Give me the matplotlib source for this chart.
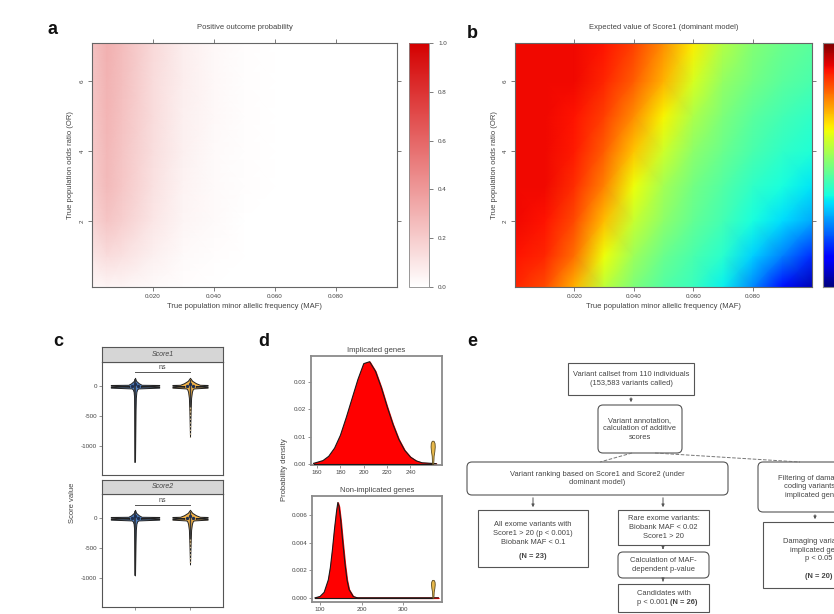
import matplotlib
matplotlib.use("Agg")
import matplotlib.pyplot as plt
from matplotlib.colors import LinearSegmentedColormap
from matplotlib.patches import FancyBboxPatch
import numpy as np

plt.rcParams['font.family'] = ['Liberation Sans', 'DejaVu Sans']

# ---- panel a: positive outcome probability (MAF x OR grid) ----
maf_a = [0.0, 0.005, 0.01, 0.02, 0.03, 0.04, 0.05, 0.06, 0.1]
or_a = [0.1, 1, 2, 3, 4, 5, 6, 7.1]
prob_a = [
    [0.03, 0.04, 0.04, 0.02, 0.01, 0.00, 0.00, 0.0, 0.0],
    [0.10, 0.14, 0.12, 0.06, 0.02, 0.01, 0.00, 0.0, 0.0],
    [0.17, 0.23, 0.19, 0.10, 0.04, 0.02, 0.00, 0.0, 0.0],
    [0.20, 0.27, 0.22, 0.12, 0.05, 0.02, 0.01, 0.0, 0.0],
    [0.21, 0.28, 0.23, 0.13, 0.06, 0.02, 0.01, 0.0, 0.0],
    [0.22, 0.29, 0.24, 0.14, 0.06, 0.03, 0.01, 0.0, 0.0],
    [0.23, 0.30, 0.25, 0.14, 0.07, 0.03, 0.01, 0.0, 0.0],
    [0.24, 0.31, 0.26, 0.15, 0.07, 0.03, 0.01, 0.0, 0.0],
]

# ---- panel b: expected value of Score1 (dominant model), 0..1 scaled ----
maf_b = [0.0, 0.01, 0.02, 0.03, 0.04, 0.05, 0.06, 0.07, 0.08, 0.09, 0.1]
or_b = [0.1, 1, 2, 3, 4, 5, 6, 7.1]
score_b = [
    [0.87, 0.83, 0.72, 0.58, 0.50, 0.45, 0.42, 0.36, 0.26, 0.14, 0.05],
    [0.89, 0.87, 0.79, 0.64, 0.54, 0.48, 0.44, 0.40, 0.33, 0.25, 0.17],
    [0.90, 0.89, 0.83, 0.71, 0.59, 0.52, 0.47, 0.43, 0.38, 0.34, 0.29],
    [0.90, 0.90, 0.86, 0.77, 0.64, 0.55, 0.49, 0.45, 0.41, 0.38, 0.35],
    [0.90, 0.90, 0.88, 0.81, 0.70, 0.60, 0.52, 0.48, 0.44, 0.41, 0.39],
    [0.90, 0.90, 0.89, 0.84, 0.76, 0.65, 0.56, 0.50, 0.46, 0.43, 0.41],
    [0.90, 0.90, 0.90, 0.87, 0.81, 0.72, 0.61, 0.53, 0.49, 0.46, 0.44],
    [0.90, 0.90, 0.90, 0.89, 0.84, 0.76, 0.66, 0.57, 0.51, 0.48, 0.46],
]

# ---- panel c: violin shapes (score value vs half width) ----
facets = ['Score1', 'Score2']
violin_y = [130, 80, 40, 15, 12, 0, -8, -14, -20, -32, -45, -60, -100, -200, -400]
blue_w = [0.0, 0.02, 0.07, 0.12, 0.44, 0.44, 0.12, 0.10, 0.44, 0.44, 0.06, 0.04, 0.025, 0.015, 0.010]
orange_w = [0.0, 0.04, 0.11, 0.18, 0.32, 0.32, 0.12, 0.10, 0.32, 0.32, 0.07, 0.05, 0.035, 0.02, 0.012]
tail_blue = [-1250, -950]
tail_orange = [-840, -770]
ns_y = [225, 210]

# ---- panel d: null densities of summed scores ----
impl_x = [157, 165, 170, 175, 180, 185, 190, 195, 200, 205, 210, 215, 220, 225, 230, 235, 240, 245, 250, 262]
impl_y = [0.0002, 0.0012, 0.0028, 0.0058, 0.0105, 0.017, 0.024, 0.031, 0.0368, 0.0375, 0.034, 0.028,
          0.021, 0.0145, 0.009, 0.005, 0.0025, 0.0011, 0.0004, 0.0001]
nonimpl_x = [88, 100, 110, 120, 125, 130, 135, 140, 143, 146, 150, 155, 160, 165, 170, 180, 190, 385]
nonimpl_y = [0.0, 0.0001, 0.0004, 0.0013, 0.0022, 0.0035, 0.0050, 0.0063, 0.0069, 0.0066, 0.0056,
             0.0040, 0.0025, 0.0013, 0.0006, 0.0001, 0.0, 0.0]
impl_obs = 259
nonimpl_obs = 372

# ---- panel e: flowchart texts ----
flow_texts = [
    "Variant callset from 110 individuals\n(153,583 variants called)",
    "Variant annotation,\ncalculation of additive\nscores",
    "Variant ranking based on Score1 and Score2 (under\ndominant model)",
    "Filtering of damaging\ncoding variants in\nimplicated genes",
    "All exome variants with\nScore1 > 20 (p < 0.001)\nBiobank MAF < 0.1",
    "Rare exome variants:\nBiobank MAF < 0.02\nScore1 > 20",
    "Calculation of MAF-\ndependent p-value",
    "Candidates with\np < 0.001",
    "Damaging variants in\nimplicated genes\np < 0.05",
]
flow_counts = ["(N = 23)", "(N = 26)", "(N = 20)"]

W, H = 834, 614
TXT = '#444444'
FS_E = 5.4
fig = plt.figure(figsize=(W / 100, H / 100), dpi=100)


def px_axes(x0, y0, x1, y1):
    return fig.add_axes([x0 / W, 1 - y1 / H, (x1 - x0) / W, (y1 - y0) / H])


def lattice_style(ax):
    for s in ax.spines.values():
        s.set_color('#666666')
        s.set_linewidth(0.8)
    ax.tick_params(axis='both', which='both', length=3, width=0.6, color='#666666',
                   labelsize=4.5, labelcolor=TXT, top=True, right=True, pad=2)
    ax.set_xticks([0.02, 0.04, 0.06, 0.08])
    ax.set_xticklabels(['0.020', '0.040', '0.060', '0.080'])
    ax.set_yticks([2, 4, 6])
    ax.set_yticklabels(['2', '4', '6'], rotation=90, va='center')
    ax.set_xlim(0, 0.1)
    ax.set_ylim(0.1, 7.1)
    ax.set_xlabel('True population minor allelic frequency (MAF)', fontsize=5.5, color=TXT, labelpad=3)
    ax.set_ylabel('True population odds ratio (OR)', fontsize=5.5, color=TXT, labelpad=4)


# panel a
reds = LinearSegmentedColormap.from_list('wr', ['#ffffff', '#d40000'])
ax_a = px_axes(92, 43, 397, 287)
mesh_a = ax_a.pcolormesh(maf_a, or_a, np.array(prob_a), cmap=reds, vmin=0, vmax=1, shading='gouraud')
lattice_style(ax_a)
ax_a.set_title('Positive outcome probability', fontsize=5.5, color=TXT, pad=10)
cax_a = px_axes(409, 43, 429, 287)
cb_a = fig.colorbar(mesh_a, cax=cax_a)
cb_a.set_ticks([0, 0.2, 0.4, 0.6, 0.8, 1.0])
cb_a.set_ticklabels(['0.0', '0.2', '0.4', '0.6', '0.8', '1.0'])
cb_a.ax.tick_params(labelsize=4.5, labelcolor=TXT, length=3, width=0.6, color='#666666')
cb_a.outline.set_edgecolor('#888888')
cb_a.outline.set_linewidth(0.6)

# panel b
ax_b = px_axes(515, 43, 812, 287)
mesh_b = ax_b.pcolormesh(maf_b, or_b, np.array(score_b), cmap='jet', vmin=0, vmax=1, shading='gouraud')
lattice_style(ax_b)
ax_b.set_title('Expected value of Score1 (dominant model)', fontsize=5.5, color=TXT, pad=10)
cax_b = px_axes(823, 43, 848, 287)
cb_b = fig.colorbar(mesh_b, cax=cax_b)
cb_b.set_ticks([])
cb_b.outline.set_edgecolor('#888888')

# panel c
blue, orange = '#4f7fbf', '#f2b247'
panel_rows = [(362, 475), (494, 607)]
strip_rows = [(347, 362), (480, 494)]
for i, name in enumerate(facets):
    y0, y1 = panel_rows[i]
    ax = px_axes(102, y0, 223, y1)
    ax.set_xlim(0.4, 2.6)
    ax.set_ylim(-1470, 390)
    for xc, w, tail, col in [(1, blue_w, tail_blue[i], blue), (2, orange_w, tail_orange[i], orange)]:
        yy = np.array(violin_y + [tail])
        ww = np.array(w + [0.0])
        ax.fill_betweenx(yy, xc - ww, xc + ww, facecolor=col, edgecolor='#222222', linewidth=0.7, zorder=2)
        if col == blue:
            ax.plot([xc, xc], [100, tail], color='#2b2b2b', lw=1.1, zorder=3)
        else:
            ax.plot([xc, xc], [90, -350], color='#3a3a3a', lw=1.0, zorder=3)
            ax.plot([xc, xc], [-350, tail], color='#c9b58f', lw=1.0, ls=':', zorder=3)
        ax.scatter([xc, xc - 0.05, xc + 0.05], [20, -5, -5], s=2, color='#1f2f4f', zorder=4)
    ax.plot([1, 2], [ns_y[i], ns_y[i]], color='#555555', lw=0.7)
    ax.text(1.5, ns_y[i] + 15, 'ns', ha='center', va='bottom', fontsize=5, color=TXT)
    ax.set_yticks([0, -500, -1000])
    ax.set_yticklabels(['0', '-500', '-1000'])
    ax.tick_params(axis='y', labelsize=4.5, labelcolor=TXT, length=2, width=0.5, color='#666666', pad=1.5)
    if i == 0:
        ax.set_xticks([])
    else:
        ax.set_xticks([1, 2])
        ax.set_xticklabels(['Biobank controls', 'Patients'])
        ax.tick_params(axis='x', labelsize=4.5, labelcolor=TXT, length=2, width=0.5, color='#666666', pad=4)
    for s in ax.spines.values():
        s.set_color('#555555')
        s.set_linewidth(0.8)
    sy0, sy1 = strip_rows[i]
    sax = px_axes(102, sy0, 223, sy1)
    sax.set_facecolor('#d6d6d6')
    sax.set_xticks([])
    sax.set_yticks([])
    for s in sax.spines.values():
        s.set_color('#555555')
        s.set_linewidth(0.8)
    sax.text(0.5, 0.5, name, ha='center', va='center', fontsize=5, style='italic', color=TXT,
             transform=sax.transAxes)
fig.text(72 / W, 1 - 503 / H, 'Score value', rotation=90, ha='center', va='center', fontsize=5.5, color=TXT)


# panel d
def density_panel(box, xs, ys, xlim, ylim, xticks, yticks, ylabels, title, obs, obs_h, obs_w):
    ax = px_axes(*box)
    ax.fill_between(xs, 0, ys, color='#ff0000', zorder=2)
    ax.plot(xs, ys, color='#1a1a1a', lw=0.8, zorder=3)
    ax.plot([xlim[0] + (xlim[1] - xlim[0]) * 0.02, obs], [0, 0], color='#1a1a1a', lw=0.8, zorder=3)
    hh = np.array([0.0, 0.15, 0.35, 0.55, 0.75, 0.9, 1.0]) * obs_h
    wq = np.array([0.25, 0.35, 0.45, 0.8, 1.0, 0.9, 0.4]) * obs_w
    ax.fill_betweenx(hh, obs - wq, obs + wq, facecolor='#e7b84a', edgecolor='#5a4a20', lw=0.6, zorder=4)
    ax.set_xlim(*xlim)
    ax.set_ylim(*ylim)
    ax.set_xticks(xticks)
    ax.set_yticks(yticks)
    ax.set_yticklabels(ylabels)
    ax.tick_params(labelsize=4.5, labelcolor=TXT, length=2, width=0.5, color='#666666', pad=1.5)
    for s in ax.spines.values():
        s.set_color('#8a8a8a')
        s.set_linewidth(1.3)
    ax.set_title(title, fontsize=5.5, color=TXT, pad=3)
    return ax


density_panel((311, 356, 442, 465), impl_x, impl_y, (154.8, 267), (-0.0004, 0.0396),
              [160, 180, 200, 220, 240], [0, 0.01, 0.02, 0.03], ['0.00', '0.01', '0.02', '0.03'],
              'Implicated genes', impl_obs, 0.0085, 1.8)
density_panel((312, 496, 442, 602), nonimpl_x, nonimpl_y, (80.7, 394), (-0.0003, 0.00737),
              [100, 200, 300], [0, 0.002, 0.004, 0.006], ['0.000', '0.002', '0.004', '0.006'],
              'Non-implicated genes', nonimpl_obs, 0.0013, 4.5)
fig.text(284 / W, 1 - 470 / H, 'Probability density', rotation=90, ha='center', va='center',
         fontsize=5.5, color=TXT)

# panel e: flowchart drawn on a pixel-space overlay
ax_e = fig.add_axes([0, 0, 1, 1])
ax_e.set_xlim(0, W)
ax_e.set_ylim(H, 0)
ax_e.axis('off')
ax_e.patch.set_alpha(0)

boxes = [
    (568, 363, 694, 395, False),
    (598, 405, 682, 453, True),
    (467, 462, 728, 495, True),
    (758, 462, 870, 512, True),
    (478, 510, 588, 567, False),
    (618, 510, 709, 545, False),
    (618, 552, 709, 578, True),
    (618, 584, 709, 612, False),
    (763, 522, 870, 588, False),
]
for k, (x0, y0, x1, y1, rounded) in enumerate(boxes):
    style = 'round,pad=0,rounding_size=5' if rounded else 'square,pad=0'
    ax_e.add_patch(FancyBboxPatch((x0, y0), x1 - x0, y1 - y0, boxstyle=style,
                                  facecolor='white', edgecolor='#555555', lw=0.8))
    cx = (x0 + x1) / 2
    cy = (y0 + y1) / 2
    if k in (3, 8):
        cx = x0 + 56
    if k == 4 or k == 8:
        ax_e.text(cx, cy - 5, flow_texts[k], ha='center', va='center',
                  fontsize=FS_E, color=TXT, linespacing=1.35)
        ax_e.text(cx, y1 - 11, flow_counts[0 if k == 4 else 2], ha='center', va='center',
                  fontsize=FS_E, color=TXT, fontweight='bold')
    elif k == 7:
        first, second = flow_texts[k].split('\n')
        ax_e.text(cx, cy - 4.5, first, ha='center', va='center', fontsize=FS_E, color=TXT)
        ax_e.text(cx + 7, cy + 4.5, second + ' ', ha='right', va='center', fontsize=FS_E, color=TXT)
        ax_e.text(cx + 7, cy + 4.5, flow_counts[1], ha='left', va='center', fontsize=FS_E,
                  color=TXT, fontweight='bold')
    else:
        ax_e.text(cx, cy, flow_texts[k], ha='center', va='center',
                  fontsize=FS_E, color=TXT, linespacing=1.35)

arrows = [(631, 395, 405), (533, 495, 510), (663, 495, 510), (663, 545, 552), (663, 578, 584), (815, 512, 522)]
for x, ya, yb in arrows:
    ax_e.annotate('', xy=(x, yb), xytext=(x, ya),
                  arrowprops=dict(arrowstyle='-|>', color='#555555', lw=0.7, mutation_scale=4))
ax_e.plot([632, 600], [453, 462], color='#777777', lw=0.7, ls='--')
ax_e.plot([655, 800], [453, 462], color='#777777', lw=0.7, ls='--')

# panel letters
for lab, x, y in [('a', 52, 30), ('b', 472, 33), ('c', 58, 342), ('d', 264, 342), ('e', 472, 342)]:
    fig.text(x / W, 1 - y / H, lab, fontsize=13, fontweight='bold', ha='center', va='center', color='#111111')

fig.savefig('out.png', dpi=100)
